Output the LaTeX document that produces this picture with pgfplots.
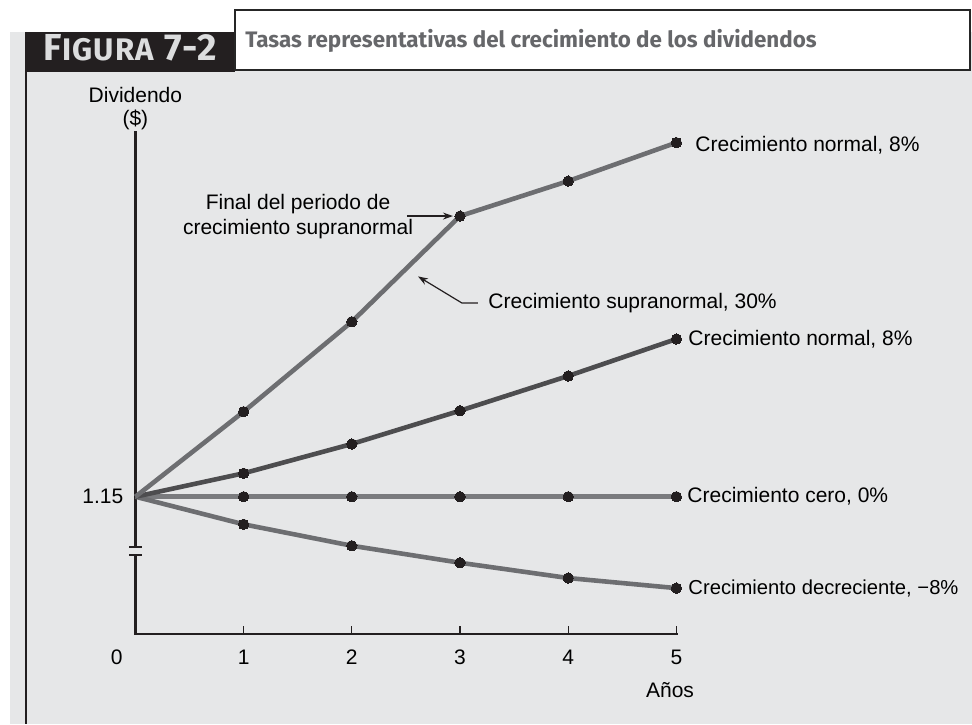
\documentclass[border=0pt]{standalone}
\usepackage{fontspec}
\setmainfont{Liberation Sans}
\newfontfamily\headfont{Fira Sans}
\usepackage{pgfplots}
\pgfplotsset{compat=1.18}
\usetikzlibrary{arrows.meta}

\definecolor{panel}{HTML}{E6E7E8}
\definecolor{hdr}{HTML}{231F20}
\definecolor{hdrtext}{HTML}{DCDDDE}
\definecolor{titlegray}{HTML}{66676A}
\definecolor{axisblack}{HTML}{231F20}
\definecolor{supra}{HTML}{6D6E71}
\definecolor{normal}{HTML}{4D4D4F}
\definecolor{cero}{HTML}{7A7B7E}
\definecolor{decre}{HTML}{6D6E71}

\newcommand\lbl{\fontsize{10.5}{12.5}\selectfont}

\pgfplotsset{
  serie/.style={line width=2.3pt, color=#1, mark=*, mark size=2.6pt,
    mark options={fill=hdr, draw=hdr, line width=0pt},
    mark indices={2,3,4,5,6}},
}

\begin{document}
\begin{tikzpicture}
% frame of the figure, in pixel units of the reference (1px = 0.5pt)
\begin{scope}[x=0.5pt,y=-0.5pt,shift={(0pt,362pt)}]
  \fill[white] (0,0) rectangle (972,724);
  \fill[panel] (10,32) rectangle (972,724);
  \fill[hdr] (26,32) rectangle (235,72);
  \draw[hdr, line width=1pt] (26,32) -- (26,724);
  \filldraw[fill=white, draw=black!85, line width=0.6pt] (235,10) rectangle (970,70);
  \node[anchor=base, text=hdrtext, inner sep=0pt] at (130.5,61)
    {\headfont\bfseries\addfontfeatures{LetterSpace=4}\fontsize{18.8}{19}\selectfont F\fontsize{15.6}{16}\selectfont IGURA\fontsize{18.8}{19}\selectfont{} 7-2};
  \node[anchor=base west, inner sep=0pt, text=titlegray] at (245,48)
    {\headfont\bfseries\fontsize{11.2}{13}\selectfont Tasas representativas del crecimiento de los dividendos};
\end{scope}

\begin{axis}[
  at={(67.7pt,45pt)}, anchor=south west,
  scale only axis, width=270.5pt, height=251pt,
  xmin=0, xmax=5, ymin=0.5928, ymax=2.6301,
  clip=false,
  axis x line=bottom, axis y line=left,
  axis line style={-, line width=1.2pt, color=axisblack, line cap=rect},
  xtick={1,2,3,4,5}, xticklabels={1,2,3,4,5},
  ytick={1.15}, yticklabels={1.15},
  tick align=inside,
  major tick length=4pt,
  xtick style={line width=0.6pt, color=axisblack},
  ytick style={draw=none},
  /pgf/number format/assume math mode=true,
  tick label style={font=\lbl, text=black},
  x tick label style={yshift=-4.3pt},
  y tick label style={xshift=-2.5pt},
  extra x ticks={0}, extra x tick labels={0},
  extra x tick style={major tick length=0pt, tick label style={xshift=-9.4pt}},
  xlabel={Años},
  every axis x label/.style={at={(axis cs:4.941,0.5928)}, anchor=center, yshift=-28pt, font=\lbl},
  ylabel={Dividendo\\(\$)},
  every axis y label/.style={at={(axis cs:0,2.6301)}, anchor=south, align=center,
    inner sep=0pt, yshift=1pt, font=\fontsize{10.5}{11.5}\selectfont},
]
\addplot[serie=cero] coordinates {(0,1.15) (1,1.15) (2,1.15) (3,1.15) (4,1.15) (5,1.15)};
\addplot[serie=decre] coordinates {(0,1.15) (1,1.038) (2,0.951) (3,0.882) (4,0.820) (5,0.779)};
\addplot[serie=normal] coordinates {(0,1.15) (1,1.245) (2,1.364) (3,1.499) (4,1.640) (5,1.790)};
\addplot[serie=supra] coordinates {(0,1.15) (1,1.495) (2,1.860) (3,2.289) (4,2.431) (5,2.587)};

% axis break
\fill[panel] (axis cs:-0.04,0.913) rectangle (axis cs:0.04,0.946);
\draw[line width=0.7pt, axisblack] (axis cs:-0.055,0.946) -- (axis cs:0.065,0.946);
\draw[line width=0.7pt, axisblack] (axis cs:-0.055,0.913) -- (axis cs:0.065,0.913);

% series labels
\node[anchor=west, font=\lbl, xshift=6pt, yshift=-1.5pt] at (axis cs:5,2.587) {Crecimiento normal, 8\%};
\node[anchor=west, font=\lbl, xshift=2.5pt] at (axis cs:5,1.790) {Crecimiento normal, 8\%};
\node[anchor=west, font=\lbl, xshift=2pt] at (axis cs:5,1.15) {Crecimiento cero, 0\%};
\node[anchor=west, font=\fontsize{10.1}{12}\selectfont, xshift=2.5pt] at (axis cs:5,0.779) {Crecimiento decreciente, −8\%};

% annotations
\node[align=center, font=\lbl, inner sep=0pt] at (axis cs:1.503,2.287) {Final del periodo de\\crecimiento supranormal};
\draw[line width=0.6pt, axisblack, -{Stealth[length=5pt,width=3.5pt]}] (axis cs:2.510,2.289) -- (axis cs:2.935,2.289);
\node[anchor=west, font=\lbl, inner sep=0pt] at (axis cs:3.259,1.936) {Crecimiento supranormal, 30\%};
\draw[line width=0.6pt, axisblack, -{Stealth[length=5pt,width=3.5pt]}] (axis cs:3.166,1.936) -- (axis cs:3.018,1.936) -- (axis cs:2.612,2.044);
\end{axis}
\pgfresetboundingbox
\path[use as bounding box] (0,0) rectangle (486pt,362pt);
\end{tikzpicture}
\end{document}
